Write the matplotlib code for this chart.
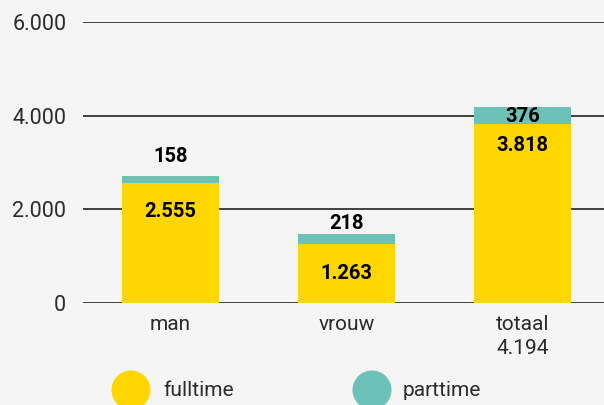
import matplotlib
matplotlib.use('Agg')
import matplotlib.pyplot as plt

plt.rcParams['font.family'] = ['Roboto', 'DejaVu Sans']

categories = ['man', 'vrouw', 'totaal\n4.194']
fulltime = [2555, 1263, 3818]
parttime = [158, 218, 376]
fulltime_labels = ['2.555', '1.263', '3.818']
parttime_labels = ['158', '218', '376']
yticks = [0, 2000, 4000, 6000]
ytick_labels = ['0', '2.000', '4.000', '6.000']
legend_names = ['fulltime', 'parttime']

yellow = '#FFD600'
teal = '#6CC1B9'
bg = '#F5F5F5'

# label offsets in points (relative to the segment top)
full_off = [-20, -21, -15.5]
part_off = [14, 7.5, -7]

fig = plt.figure(figsize=(6.04, 4.05), dpi=100, facecolor=bg)
ax = fig.add_axes([83 / 604, (405 - 303) / 405, 1 - 83 / 604, (303 - 22) / 405])
ax.set_facecolor(bg)

x = range(len(categories))
ax.bar(x, fulltime, width=0.555, color=yellow, zorder=3)
ax.bar(x, parttime, width=0.555, bottom=fulltime, color=teal, zorder=3)

for i in x:
    ax.annotate(fulltime_labels[i], (i, fulltime[i]), xytext=(0, full_off[i]),
                textcoords='offset points', ha='center', va='center',
                fontsize=14.5, fontweight='bold', color='black', zorder=4)
    ax.annotate(parttime_labels[i], (i, fulltime[i] + parttime[i]), xytext=(0, part_off[i]),
                textcoords='offset points', ha='center', va='center',
                fontsize=14.5, fontweight='bold', color='black', zorder=4)

ax.set_xlim(-0.497, 2.463)
ax.set_ylim(0, 6000)
ax.set_yticks(yticks)
ax.set_yticklabels(ytick_labels)
ax.set_xticks(list(x))
ax.set_xticklabels(categories, linespacing=1.3)
ax.tick_params(axis='y', length=0, pad=12, labelsize=15.5, labelcolor='#2b2b2b')
ax.tick_params(axis='x', length=0, pad=9, labelsize=15, labelcolor='#2b2b2b')
ax.yaxis.grid(True, color='#222222', linewidth=1.2, zorder=1)
for s in ax.spines.values():
    s.set_visible(False)

# legend drawn in pixel space
lax = fig.add_axes([0, 0, 1, 1], facecolor='none')
lax.set_xlim(0, 604)
lax.set_ylim(405, 0)
lax.axis('off')
for (cx, tx), name, col in zip([(131, 163), (372, 403)], legend_names, [yellow, teal]):
    lax.scatter([cx], [390], s=790, color=col, edgecolors='none', clip_on=False)
    lax.text(tx, 391, name, ha='left', va='center', fontsize=15, color='#2b2b2b')

fig.savefig('out.png', dpi=100, facecolor=bg)
